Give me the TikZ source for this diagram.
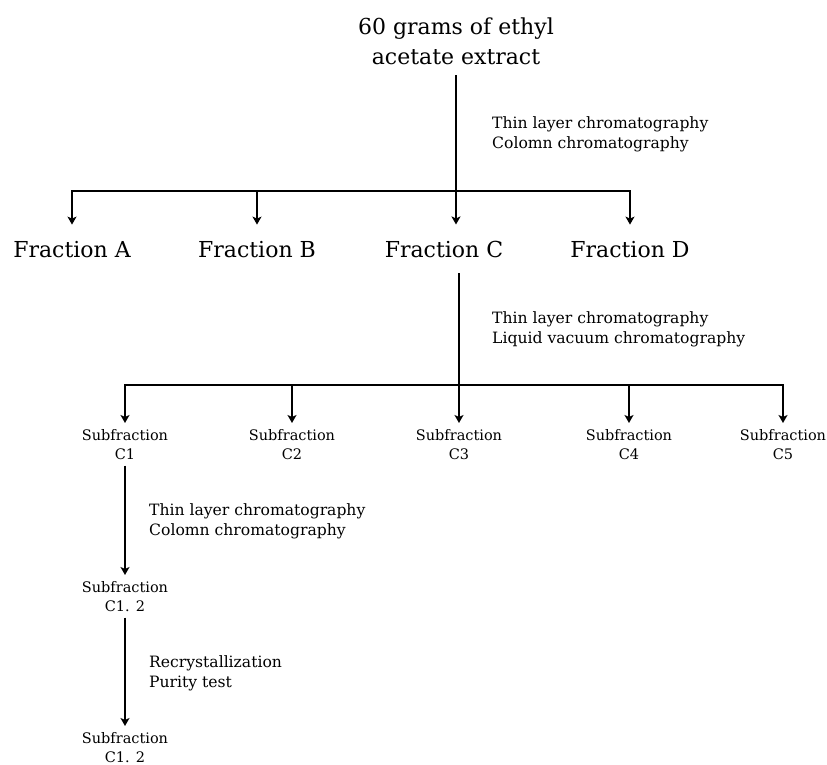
\documentclass[tikz,border=0pt]{standalone}
\usepackage{fontspec}
\setmainfont{DejaVu Serif}
\usetikzlibrary{arrows.meta}
\begin{document}
\begin{tikzpicture}[x=1pt,y=-1pt,
  link/.style={line width=1.8pt, line cap=rect},
  arr/.style={line width=1.8pt, -{Stealth[length=8pt,width=9pt,inset=2pt]}},
  titlebox/.style={font=\fontsize{22}{30}\selectfont, align=center, inner xsep=0pt, inner ysep=10pt, anchor=north},
  fracbox/.style={font=\fontsize{22}{26}\selectfont, inner xsep=0pt, inner ysep=16pt, anchor=base},
  subbox/.style={font=\fontsize{14.5}{19}\selectfont, align=center, inner xsep=0pt, inner ysep=6pt, anchor=north},
  notebox/.style={font=\fontsize{15.6}{20}\selectfont, align=left, inner sep=0pt, anchor=north west}]
\useasboundingbox (0,0) rectangle (827,765);
\fill[white] (0,0) rectangle (827,765);

% title and fractions
\node[titlebox] (title) at (456,8) {60 grams of ethyl\\acetate extract};
\node[fracbox] (fA) at (72,257) {Fraction A};
\node[fracbox] (fB) at (257,257) {Fraction B};
\node[fracbox] (fC) at (444,257) {Fraction C};
\node[fracbox] (fD) at (630,257) {Fraction D};
\coordinate (j1) at (456,191);

\node[notebox] (n1) at (492,116) {Thin layer chromatography\\Colomn chromatography};

\draw[link] (title.south) -- (j1);
\draw[arr] (j1) -| (fA.north);
\draw[arr] (j1) -| (fB.north);
\draw[arr] (j1) -- (j1 |- fC.north);
\draw[arr] (j1) -| (fD.north);

% subfractions
\coordinate (j2) at (459,385);
\node[subbox] (s1) at (125,423) {Subfraction\\C1};
\node[subbox] (s2) at (292,423) {Subfraction\\C2};
\node[subbox] (s3) at (459,423) {Subfraction\\C3};
\node[subbox] (s4) at (629,423) {Subfraction\\C4};
\node[subbox] (s5) at (783,423) {Subfraction\\C5};

\node[notebox] (n2) at (492,311) {Thin layer chromatography\\Liquid vacuum chromatography};

\draw[link] (fC.south -| j2) -- (j2);
\draw[arr] (j2) -| (s1.north);
\draw[arr] (j2) -| (s2.north);
\draw[arr] (j2) -- (s3.north);
\draw[arr] (j2) -| (s4.north);
\draw[arr] (j2) -| (s5.north);

% C1 chain
\node[subbox] (s12) at (125,575) {Subfraction\\C1. 2};
\node[subbox] (s13) at (125,726) {Subfraction\\C1. 2};

\node[notebox] (n3) at (149,503) {Thin layer chromatography\\Colomn chromatography};
\node[notebox] (n4) at (149,655) {Recrystallization\\Purity test};

\draw[arr] (s1.south) -- (s12.north);
\draw[arr] (s12.south) -- (s13.north);
\end{tikzpicture}
\end{document}
